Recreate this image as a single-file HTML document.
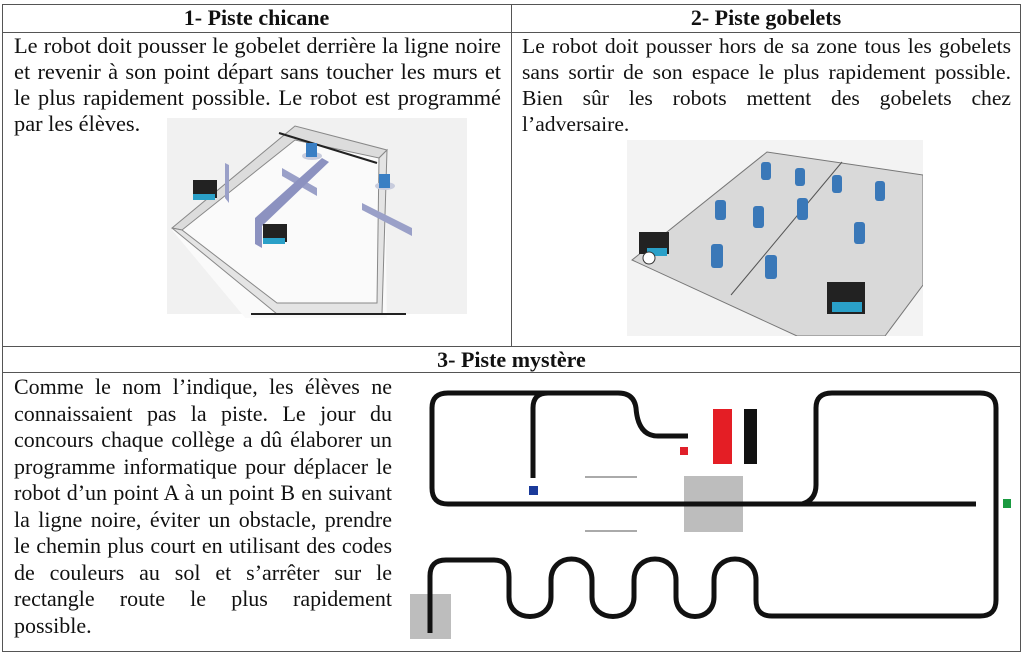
<!DOCTYPE html>
<html><head><meta charset="utf-8"><style>
body{margin:0;width:1024px;height:655px;background:#fff;position:relative;overflow:hidden;font-family:"Liberation Serif",serif;color:#111}
.a{position:absolute}
.h{font-weight:bold;font-size:22px;text-align:center;line-height:26px}
.t{font-size:22px;line-height:26px;text-align:justify;text-align-last:left}
.l{position:absolute;background:#555}
</style></head><body>
<div class="l" style="left:2px;top:4px;width:1019px;height:1px"></div>
<div class="l" style="left:2px;top:32px;width:1019px;height:1px"></div>
<div class="l" style="left:2px;top:346px;width:1019px;height:1px"></div>
<div class="l" style="left:2px;top:372px;width:1019px;height:1px"></div>
<div class="l" style="left:2px;top:651px;width:1019px;height:1px"></div>
<div class="l" style="left:2px;top:4px;width:1px;height:648px"></div>
<div class="l" style="left:1020px;top:4px;width:1px;height:648px"></div>
<div class="l" style="left:511px;top:4px;width:1px;height:343px"></div>

<div class="a h" style="left:2px;top:5px;width:509px">1- Piste chicane</div>
<div class="a h" style="left:511px;top:5px;width:510px">2- Piste gobelets</div>
<div class="a h" style="left:2px;top:347px;width:1019px">3- Piste mystère</div>

<div class="a t" style="left:14px;top:33px;width:487px;font-size:22.4px">Le robot doit pousser le gobelet derrière la ligne noire et revenir à son point départ sans toucher les murs et le plus rapidement possible. Le robot est programmé par les élèves.</div>
<div class="a t" style="left:522px;top:33px;width:489px;font-size:21.6px">Le robot doit pousser hors de sa zone tous les gobelets sans sortir de son espace le plus rapidement possible. Bien sûr les robots mettent des gobelets chez l’adversaire.</div>
<div class="a t" style="left:14px;top:374px;width:378px;line-height:26.5px">Comme le nom l’indique, les élèves ne connaissaient pas la piste. Le jour du concours chaque collège a dû élaborer un programme informatique pour déplacer le robot d’un point A à un point B en suivant la ligne noire, éviter un obstacle, prendre le chemin plus court en utilisant des codes de couleurs au sol et s’arrêter sur le rectangle route le plus rapidement possible.</div>

<svg class="a" style="left:167px;top:118px" width="300" height="200">
<rect width="300" height="196" fill="#f1f1f1"/>
<polygon points="5,112 130,10 218,35 220,220 95,220" fill="#fafafa"/>
<polygon points="5,110 128,8 220,32 212,40 128,22 15,112" fill="#dcdcdc" stroke="#888" stroke-width="1"/>
<polygon points="5,110 110,196 215,196 220,32 212,40 210,185 110,185 15,112" fill="#e4e4e4" stroke="#888" stroke-width="1"/>
<line x1="112" y1="15" x2="210" y2="45" stroke="#222" stroke-width="2"/>
<polygon points="58,45 62,47 62,85 58,80" fill="#9aa0c8"/>
<polygon points="115,50 150,70 150,78 115,58" fill="#9aa0c8"/>
<polygon points="88,100 155,40 162,44 95,108 95,130 88,126" fill="#8c92c0"/>
<polygon points="195,85 245,110 245,118 195,92" fill="#9aa0c8"/>
<ellipse cx="145" cy="38" rx="10" ry="4" fill="#c8ccdd"/><rect x="139" y="25" width="11" height="14" fill="#3a7fc4"/>
<ellipse cx="218" cy="68" rx="10" ry="4" fill="#c8ccdd"/><rect x="212" y="56" width="11" height="14" fill="#3a7fc4"/>
<rect x="26" y="62" width="24" height="18" fill="#222"/><rect x="26" y="76" width="22" height="6" fill="#2aa0c8"/>
<rect x="96" y="106" width="24" height="18" fill="#222"/><rect x="96" y="120" width="22" height="6" fill="#2aa0c8"/>
<rect x="84" y="195" width="155" height="2" fill="#222"/>
</svg>

<svg class="a" style="left:627px;top:140px" width="296" height="196">
<rect width="296" height="196" fill="#f3f3f3"/>
<polygon points="5,120 140,12 296,35 296,145 258,196 170,196" fill="#d9d9d9" stroke="#777"/>
<line x1="215" y1="22" x2="104" y2="155" stroke="#555"/>
<g fill="#3a78b8">
<rect x="134" y="22" width="10" height="18" rx="3"/><rect x="168" y="28" width="10" height="18" rx="3"/>
<rect x="205" y="35" width="10" height="18" rx="3"/><rect x="248" y="41" width="10" height="20" rx="3"/>
<rect x="88" y="60" width="11" height="20" rx="3"/><rect x="126" y="66" width="11" height="22" rx="3"/>
<rect x="170" y="58" width="11" height="22" rx="3"/><rect x="227" y="82" width="11" height="22" rx="3"/>
<rect x="84" y="104" width="12" height="24" rx="3"/><rect x="138" y="115" width="12" height="24" rx="3"/>
</g>
<rect x="12" y="92" width="30" height="22" fill="#222"/><rect x="20" y="108" width="20" height="8" fill="#2aa0c8"/><circle cx="22" cy="118" r="6" fill="#fff" stroke="#333"/>
<rect x="200" y="142" width="38" height="32" fill="#222"/><rect x="205" y="162" width="30" height="10" fill="#2aa0c8"/>
</svg>

<svg class="a" style="left:0;top:0" width="1024" height="655">
<rect x="410" y="594" width="41" height="45" fill="#bdbdbd"/>
<rect x="684" y="476" width="59" height="56" fill="#bdbdbd"/>
<rect x="585" y="476" width="52" height="2" fill="#aaa"/>
<rect x="585" y="530" width="52" height="2" fill="#aaa"/>
<rect x="680" y="447" width="8" height="8" fill="#e0202a"/>
<rect x="713" y="409" width="19" height="55" fill="#e41e25"/>
<rect x="744" y="409" width="13" height="55" fill="#111"/>
<rect x="529" y="486" width="9" height="9" fill="#1a3a9a"/>
<rect x="1003" y="499" width="8" height="9" fill="#1a9a40"/>
<g fill="none" stroke="#111" stroke-width="5" stroke-linejoin="round" stroke-linecap="butt">
<path d="M976,504 H448 Q432,504 432,488 V408 Q432,393 448,393 H618 Q634,393 636,408 Q638,436 658,436 H688"/>
<path d="M533,478 V408 Q533,393 548,393"/>
<path d="M802,504 Q816,500 816,485 V408 Q816,393 832,393 H980 Q996,393 996,408 V600 Q996,616 980,616 H772 Q756,616 756,600 V580 C756,552 714,552 714,580 V597 C714,623 676,623 676,597 V580 C676,552 634,552 634,580 V597 C634,623 592,623 592,597 V580 C592,552 551,552 551,580 V597 C551,623 509,623 509,597 V577 Q509,560 494,560 H446 Q430,560 430,576 V633"/>
</g>
</svg>
</body></html>
